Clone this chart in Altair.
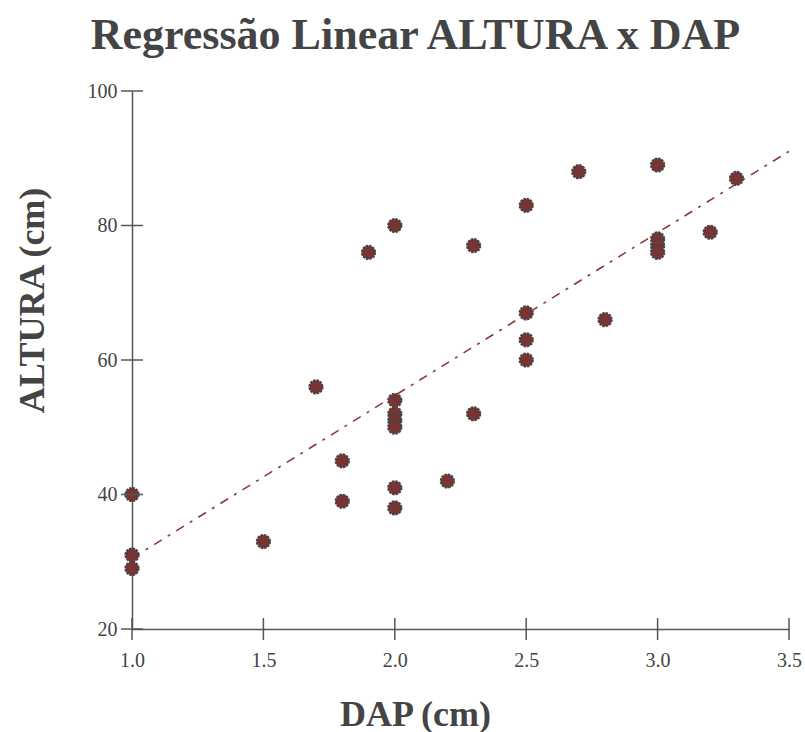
import altair as alt
import pandas as pd

dap = [1.0, 1.0, 1.0, 1.5, 1.7, 1.8, 1.8, 1.9, 2.0, 2.0, 2.0, 2.0, 2.0, 2.0, 2.0,
       2.2, 2.3, 2.3, 2.5, 2.5, 2.5, 2.5, 2.7, 2.8, 3.0, 3.0, 3.0, 3.0, 3.2, 3.3]
altura = [40, 31, 29, 33, 56, 45, 39, 76, 80, 54, 52, 51, 50, 41, 38,
          42, 77, 52, 83, 67, 63, 60, 88, 66, 89, 78, 77, 76, 79, 87]
x_ticks = [1.0, 1.5, 2.0, 2.5, 3.0, 3.5]
y_ticks = [20, 40, 60, 80, 100]

FONT = "Liberation Serif"
df = pd.DataFrame({"dap": dap, "altura": altura})
xt = pd.DataFrame({"dap": x_ticks, "altura": [y_ticks[0]] * len(x_ticks)})
yt = pd.DataFrame({"dap": [x_ticks[0]] * len(y_ticks), "altura": y_ticks})

xenc = alt.X("dap:Q", scale=alt.Scale(domain=[1.0, 3.5], nice=False, zero=False),
             axis=alt.Axis(values=x_ticks, format=".1f", title="DAP (cm)",
                           titleX=283, titleY=96, titleBaseline="alphabetic",
                           titleAlign="center", labelPadding=21, labelFlush=False))
yenc = alt.Y("altura:Q", scale=alt.Scale(domain=[20, 100], nice=False, zero=False),
             axis=alt.Axis(values=y_ticks, title="ALTURA (cm)",
                           titleX=-89, titleY=209, titleBaseline="alphabetic",
                           titleAlign="center", titleAngle=-90, labelPadding=15,
                           labelFlush=False))

points = alt.Chart(df).mark_point(
    shape="circle", filled=True, size=175, fill="#7a3333", fillOpacity=1,
    stroke="#454545", strokeWidth=2, strokeDash=[2.5, 1], opacity=1
).encode(x=xenc, y=yenc)

reg = alt.Chart(df).transform_regression(
    "dap", "altura", extent=[1.0, 3.5]
).mark_line(color="#8b3a3a", strokeWidth=1.6, strokeDash=[9, 7, 3, 7]).encode(
    x="dap:Q", y="altura:Q")

xtick_marks = alt.Chart(xt).mark_tick(orient="vertical", size=22, thickness=1.5,
                                      color="#555555", opacity=1).encode(x="dap:Q", y="altura:Q")
ytick_marks = alt.Chart(yt).mark_tick(orient="horizontal", size=22, thickness=1.5,
                                      color="#555555", opacity=1).encode(x="dap:Q", y="altura:Q")

chart = alt.layer(reg, points, xtick_marks, ytick_marks).properties(
    width=657, height=538,
    autosize=alt.AutoSizeParams(type="none"),
    padding={"left": 132, "top": 91, "right": 16, "bottom": 103},
    title=alt.TitleParams("Regressão Linear ALTURA x DAP", font=FONT, fontSize=44,
                          fontWeight="bold", color="#444444", anchor="middle",
                          dx=-45, offset=23),
).configure_view(stroke=None).configure_axis(
    grid=False, tickSize=0, domainColor="#555555", domainWidth=1.5,
    labelFont=FONT, labelFontSize=20, labelColor="#444444",
    titleFont=FONT, titleFontSize=36, titleFontWeight="bold", titleColor="#444444",
    zindex=1
)

chart.save("out.html", embed_options={"renderer": "svg", "actions": False})
